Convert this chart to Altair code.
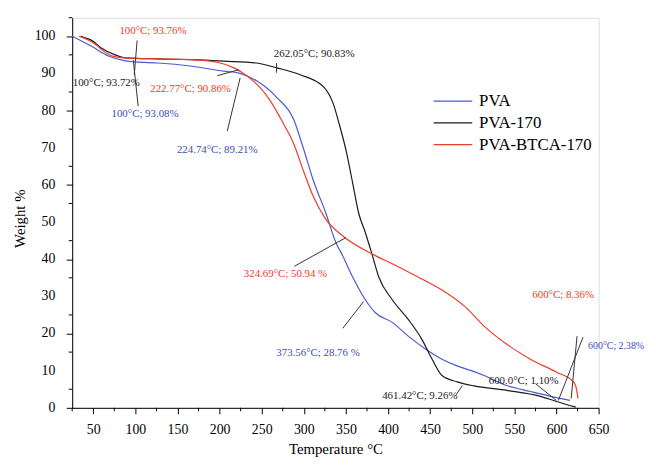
import altair as alt
import pandas as pd

# ---- data ----
series_names = ["PVA", "PVA-170", "PVA-BTCA-170"]
series_colors = ["#4a5ad0", "#1a1a1a", "#f23a2a"]
text_colors = {"PVA": "#3b4cb8", "PVA-170": "#1a1a1a", "PVA-BTCA-170": "#f03828"}

pva_T = [25, 48, 68, 88, 100, 127, 165, 205, 223, 244, 268, 288, 299, 311, 326, 338, 346, 358, 373, 385, 405, 424, 444, 464, 482, 499, 514, 541, 569, 593, 616]
pva_W = [100, 97.3, 94.7, 93.4, 93.1, 92.8, 92.0, 90.6, 90.1, 88.0, 83.5, 77.6, 70.2, 61.4, 52.5, 44.5, 41.0, 35.2, 29.1, 25.6, 23.0, 19.3, 15.9, 13.1, 11.3, 10.0, 8.7, 6.0, 4.4, 3.1, 2.0]

pva170_T = [35, 40, 48, 60, 76, 88, 127, 166, 205, 244, 268, 295, 323, 335, 342, 350, 358, 365, 373, 381, 389, 405, 424, 440, 452, 464, 482, 502, 541, 581, 600, 623]
pva170_W = [100, 99.6, 98.9, 96.8, 95.0, 94.2, 93.9, 93.7, 93.3, 92.8, 91.5, 89.7, 86.5, 81.8, 76.4, 69.4, 60.5, 52.5, 47.2, 41.3, 35.2, 29.1, 23.8, 18.5, 13.2, 8.7, 7.0, 5.9, 4.7, 3.1, 1.7, 0.2]

btca_T = [33, 54, 60, 74, 88, 127, 166, 197, 217, 232, 240, 260, 276, 288, 299, 311, 326, 346, 382, 405, 435, 464, 491, 514, 541, 569, 600, 620, 623, 625.6]
btca_W = [100, 97.6, 96.4, 94.6, 94.2, 93.9, 93.7, 93.0, 91.5, 89.4, 88.0, 82.7, 76.4, 71.1, 64.1, 57.0, 50.8, 46.3, 41.3, 38.8, 35.3, 31.7, 27.3, 22.0, 17.1, 13.1, 9.6, 7.0, 5.7, 2.5]

# annotations: text, series (for colour), T, W, align
ann_text = ["100°C; 93.76%", "100°C; 93.72%", "262.05°C; 90.83%", "222.77°C; 90.86%",
            "100°C; 93.08%", "224.74°C; 89.21%", "324.69°C; 50.94 %", "373.56°C; 28.76 %",
            "461.42°C; 9.26%", "600.0°C; 1.10%", "600°C; 8.36%", "600°C; 2.38%"]
ann_series = ["PVA-BTCA-170", "PVA-170", "PVA-170", "PVA-BTCA-170",
              "PVA", "PVA", "PVA-BTCA-170", "PVA",
              "PVA-170", "PVA-170", "PVA-BTCA-170", "PVA"]
ann_T = [120.9, 65.5, 312.2, 165.5, 111.5, 197.2, 278.2, 316.9, 437.7, 561.0, 607.9, 637.5]
ann_W = [101.3, 87.3, 95.2, 85.7, 79.0, 69.4, 36.0, 14.7, 3.1, 7.3, 30.4, 16.6]
ann_align = ["center"] * 11 + ["left"]

# leader lines: (T1, W1) -> (T2, W2)
lead_T1 = [102.1, 97.5, 267.6, 197.2, 224.4, 288.8, 346.2, 480.1, 575.1, 624.4, 631.5]
lead_W1 = [98.9, 93.6, 92.8, 89.4, 88.8, 38.1, 21.4, 3.3, 6.5, 19.3, 19.0]
lead_T2 = [98.7, 103.3, 267.6, 223.0, 209.1, 349.8, 370.9, 488.3, 599.8, 617.4, 602.2]
lead_W2 = [89.6, 81.2, 90.2, 91.0, 74.5, 45.8, 28.6, 6.0, 2.0, 2.5, 2.0]

x_major = list(range(50, 651, 50))
x_minor = list(range(25, 651, 50))
y_major = list(range(0, 101, 10))
y_minor = list(range(5, 106, 10))
y_labels = [str(v) for v in y_major]

FONT = "Liberation Serif"

curves = pd.concat([
    pd.DataFrame({"T": pva_T, "W": pva_W, "series": "PVA"}),
    pd.DataFrame({"T": pva170_T, "W": pva170_W, "series": "PVA-170"}),
    pd.DataFrame({"T": btca_T, "W": btca_W, "series": "PVA-BTCA-170"}),
], ignore_index=True)

ann = pd.DataFrame({"text": ann_text, "series": ann_series, "T": ann_T, "W": ann_W, "align": ann_align})
ann["tcolor"] = ann["series"].map(text_colors)
leads = pd.DataFrame({"T1": lead_T1, "W1": lead_W1, "T2": lead_T2, "W2": lead_W2})

xscale = alt.Scale(domain=[25, 650], nice=False, zero=False)
yscale = alt.Scale(domain=[0, 105], nice=False, zero=True)

xaxis = alt.Axis(
    values=x_major, tickSize=6,
    title="Temperature °C", titleFont=FONT, titleFontSize=15, titleFontWeight="normal",
    labelFont=FONT, labelFontSize=14, labelPadding=9, titlePadding=5,
    labelOverlap=False, labelFlush=False, grid=False,
    domainColor="black", tickColor="black", labelColor="black", titleColor="black",
)
yaxis = alt.Axis(
    values=y_major, tickSize=6, labels=False,
    title="Weight %", titleFont=FONT, titleFontSize=15, titleFontWeight="normal",
    titleAngle=270, titleAlign="center", titleBaseline="bottom", titleX=-45, titleY=203,
    grid=False, domainColor="black", tickColor="black", titleColor="black",
)

lines = alt.Chart(curves).mark_line(strokeWidth=1.2, interpolate="monotone").encode(
    x=alt.X("T:Q", scale=xscale, axis=xaxis),
    y=alt.Y("W:Q", scale=yscale, axis=yaxis),
    color=alt.Color(
        "series:N",
        scale=alt.Scale(domain=series_names, range=series_colors),
        sort=series_names,
        legend=alt.Legend(
            orient="none", legendX=377, legendY=76, title=None,
            symbolType="M-3,0L3,0", symbolSize=169, symbolStrokeWidth=1.2,
            labelFont=FONT, labelFontSize=17, labelColor="black",
            labelOffset=18, rowPadding=4, padding=0,
        ),
    ),
    detail="series:N",
)

ylab = alt.Chart(pd.DataFrame({"v": y_major, "lab": y_labels})).mark_text(
    font=FONT, fontSize=14, align="right", baseline="middle", color="black"
).encode(y="v:Q", x=alt.value(-17), text="lab:N")

minor_x = alt.Chart(pd.DataFrame({"v": x_minor})).mark_rule(color="black", strokeWidth=1).encode(
    x="v:Q", y=alt.value(395), y2=alt.value(398.5),
)
minor_y = alt.Chart(pd.DataFrame({"v": y_minor})).mark_rule(color="black", strokeWidth=1).encode(
    y="v:Q", x=alt.value(0), x2=alt.value(-3.5),
)

leader = alt.Chart(leads).mark_rule(color="#333333", strokeWidth=1).encode(
    x="T1:Q", y="W1:Q", x2="T2:Q", y2="W2:Q",
)

texts_c = alt.Chart(ann[ann["align"] == "center"]).mark_text(
    font=FONT, fontSize=11, align="center", baseline="middle"
).encode(x="T:Q", y="W:Q", text="text:N",
         color=alt.Color("tcolor:N", scale=None, legend=None))

texts_l = alt.Chart(ann[ann["align"] == "left"]).mark_text(
    font=FONT, fontSize=10, align="left", baseline="middle"
).encode(x="T:Q", y="W:Q", text="text:N",
         color=alt.Color("tcolor:N", scale=None, legend=None))

chart = alt.layer(lines, ylab, minor_x, minor_y, leader, texts_c, texts_l).properties(
    width=533, height=395,
    autosize=alt.AutoSizeParams(type="none"),
    padding={"left": 65, "top": 7, "right": 50, "bottom": 50},
).resolve_scale(color="independent").configure_view(stroke=None).configure(background="white")

chart.save("out.html", embed_options={"renderer": "svg", "actions": False})
